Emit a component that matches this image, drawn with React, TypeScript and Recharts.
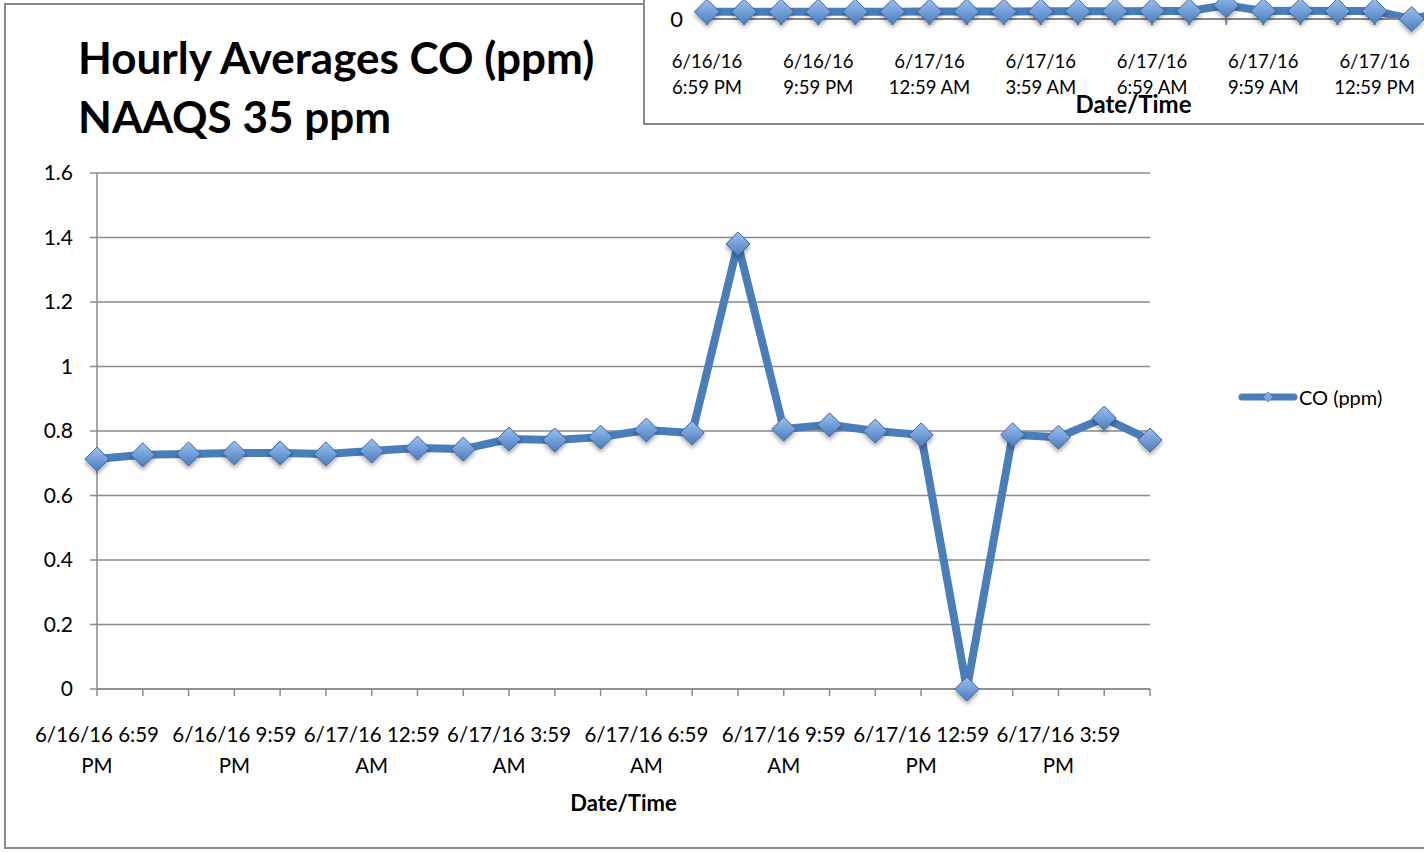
import { CartesianGrid, Legend, Line, LineChart, XAxis, YAxis } from "recharts";

const times = [
  "6/16/16 6:59 PM",
  "6/16/16 7:59 PM",
  "6/16/16 8:59 PM",
  "6/16/16 9:59 PM",
  "6/16/16 10:59 PM",
  "6/16/16 11:59 PM",
  "6/17/16 12:59 AM",
  "6/17/16 1:59 AM",
  "6/17/16 2:59 AM",
  "6/17/16 3:59 AM",
  "6/17/16 4:59 AM",
  "6/17/16 5:59 AM",
  "6/17/16 6:59 AM",
  "6/17/16 7:59 AM",
  "6/17/16 8:59 AM",
  "6/17/16 9:59 AM",
  "6/17/16 10:59 AM",
  "6/17/16 11:59 AM",
  "6/17/16 12:59 PM",
  "6/17/16 1:59 PM",
  "6/17/16 2:59 PM",
  "6/17/16 3:59 PM",
  "6/17/16 4:59 PM",
  "6/17/16 5:59 PM"
];

const coPpm = [
  0.713, 0.726, 0.729, 0.732, 0.732, 0.729, 0.738, 0.747, 0.744, 0.775, 0.772, 0.781,
  0.803, 0.794, 1.38, 0.806, 0.819, 0.8, 0.788, 0, 0.788, 0.781, 0.84, 0.772
];

const yTicks = [0, 0.2, 0.4, 0.6, 0.8, 1, 1.2, 1.4, 1.6];
const insetYTicks = [0];

const data = times.map((time, i) => ({ time, co: coPpm[i] }));

const FONT = "Lato, 'Open Sans', sans-serif";
const BLUE = "#4a7ebb";
const GREY = "#8a8a8a";

function Diamond(props: any) {
  const { cx, cy, r, grad, shadow } = props;
  if (cx == null || cy == null) return null;
  return (
    <path
      d={`M${cx},${cy - r} L${cx + r},${cy} L${cx},${cy + r} L${cx - r},${cy} Z`}
      fill={`url(#${grad})`}
      stroke="#3b68a3"
      strokeWidth={1}
      filter={`url(#${shadow})`}
    />
  );
}

function MainTick(props: any) {
  const { x, y, payload, index } = props;
  if (index % 3 !== 0) return null;
  const s = String(payload.value);
  const cut = s.lastIndexOf(" ");
  return (
    <text x={x} y={y} textAnchor="middle" fontFamily={FONT} fontSize={20.5} fill="#000">
      <tspan x={x} dy={44}>{s.slice(0, cut)}</tspan>
      <tspan x={x} dy={31}>{s.slice(cut + 1)}</tspan>
    </text>
  );
}

function InsetTick(props: any) {
  const { x, y, payload, index } = props;
  if (index % 3 !== 0) return null;
  const s = String(payload.value);
  const cut = s.indexOf(" ");
  return (
    <text x={x} y={y} textAnchor="middle" fontFamily={FONT} fontSize={18.5} fill="#000">
      <tspan x={x} dy={41}>{s.slice(0, cut)}</tspan>
      <tspan x={x} dy={26}>{s.slice(cut + 1)}</tspan>
    </text>
  );
}

function LegendItem() {
  return (
    <div style={{ display: "flex", alignItems: "center", fontFamily: FONT, fontSize: 20, color: "#000" }}>
      <svg width={60} height={14} style={{ marginRight: 1 }}>
        <line x1={4} y1={7} x2={56} y2={7} stroke={BLUE} strokeWidth={7} strokeLinecap="round" />
        <path d="M30,2 L35,7 L30,12 L25,7 Z" fill="#7fa8e0" stroke="#4f80c0" strokeWidth={0.8} />
      </svg>
      <span>CO (ppm)</span>
    </div>
  );
}

function Defs({ id }: { id: string }) {
  return (
    <defs>
      <linearGradient id={`grad-${id}`} x1="0" y1="0" x2="0" y2="1">
        <stop offset="0%" stopColor="#9cc0ee" />
        <stop offset="100%" stopColor="#4b7dc0" />
      </linearGradient>
      <filter id={`shadow-${id}`} x="-50%" y="-50%" width="200%" height="200%">
        <feDropShadow dx="0" dy="3" stdDeviation="2" floodColor="#000" floodOpacity="0.35" />
      </filter>
    </defs>
  );
}

export default function App() {
  return (
    <div style={{ position: "absolute", left: 0, top: 0, width: 1424, height: 853, overflow: "hidden", background: "#fff" }}>
      <div
        style={{
          position: "absolute",
          left: 4,
          top: 3,
          width: 1440,
          height: 846,
          border: `2px solid ${GREY}`,
          boxSizing: "border-box"
        }}
      />
      <div
        style={{
          position: "absolute",
          left: 78,
          top: 28,
          fontFamily: FONT,
          fontWeight: 700,
          fontSize: 44,
          lineHeight: "59px",
          color: "#000"
        }}
      >
        <div>Hourly Averages CO (ppm)</div>
        <div>NAAQS 35 ppm</div>
      </div>

      <div style={{ position: "absolute", left: 0, top: 0 }}>
        <LineChart width={1424} height={853} data={data} margin={{ top: 173, right: 274, bottom: 0, left: 0 }}>
          <Defs id="main" />
          <CartesianGrid horizontal vertical={false} stroke={GREY} strokeWidth={1.5} />
          <XAxis
            dataKey="time"
            interval={0}
            height={164}
            tick={<MainTick />}
            tickSize={7}
            stroke={GREY}
            strokeWidth={1.5}
            label={{ value: "Date/Time", position: "insideBottom", offset: 42, fontFamily: FONT, fontSize: 22, fontWeight: 700, fill: "#000" }}
          />
          <YAxis
            width={97}
            domain={[0, 1.6]}
            ticks={yTicks}
            interval={0}
            tickSize={7}
            tickMargin={17}
            stroke={GREY}
            strokeWidth={1.5}
            tickFormatter={(v: number) => `${+v.toFixed(1)}`}
            tick={{ fontFamily: FONT, fontSize: 21, fill: "#000" }}
          />
          <Legend
            layout="horizontal"
            align="center"
            verticalAlign="middle"
            wrapperStyle={{ left: 1238, top: 385, width: "auto" }}
            content={<LegendItem />}
          />
          <Line
            type="linear"
            dataKey="co"
            name="CO (ppm)"
            stroke={BLUE}
            strokeWidth={8}
            isAnimationActive={false}
            dot={(p: any) => <Diamond key={p.index} {...p} r={12} grad="grad-main" shadow="shadow-main" />}
            activeDot={false}
          />
        </LineChart>
      </div>

      <div
        style={{
          position: "absolute",
          left: 643,
          top: 0,
          width: 781,
          height: 125,
          background: "#fff",
          borderLeft: `2px solid ${GREY}`,
          borderBottom: `2px solid ${GREY}`,
          boxSizing: "border-box",
          overflow: "hidden"
        }}
      >
        <div style={{ position: "absolute", left: 0, top: -381 }}>
          <LineChart width={925} height={500} data={data} margin={{ top: 0, right: 10, bottom: 0, left: 0 }}>
            <Defs id="inset" />
            <XAxis
              dataKey="time"
              interval={0}
              height={100}
              tick={<InsetTick />}
              tickSize={6}
              stroke={GREY}
              strokeWidth={2}
              label={{ value: "Date/Time", position: "insideBottom", offset: 6, fontFamily: FONT, fontSize: 24, fontWeight: 700, fill: "#000" }}
            />
            <YAxis
              width={62}
              domain={[0, 40]}
              ticks={insetYTicks}
              tickLine={false}
              tickSize={0}
              tickMargin={24}
              stroke={GREY}
              strokeWidth={2}
              tick={{ fontFamily: FONT, fontSize: 22, fill: "#000" }}
            />
            <Line
              type="linear"
              dataKey="co"
              stroke={BLUE}
              strokeWidth={8}
              isAnimationActive={false}
              dot={(p: any) => <Diamond key={p.index} {...p} r={12.5} grad="grad-inset" shadow="shadow-inset" />}
              activeDot={false}
            />
          </LineChart>
        </div>
      </div>
    </div>
  );
}
